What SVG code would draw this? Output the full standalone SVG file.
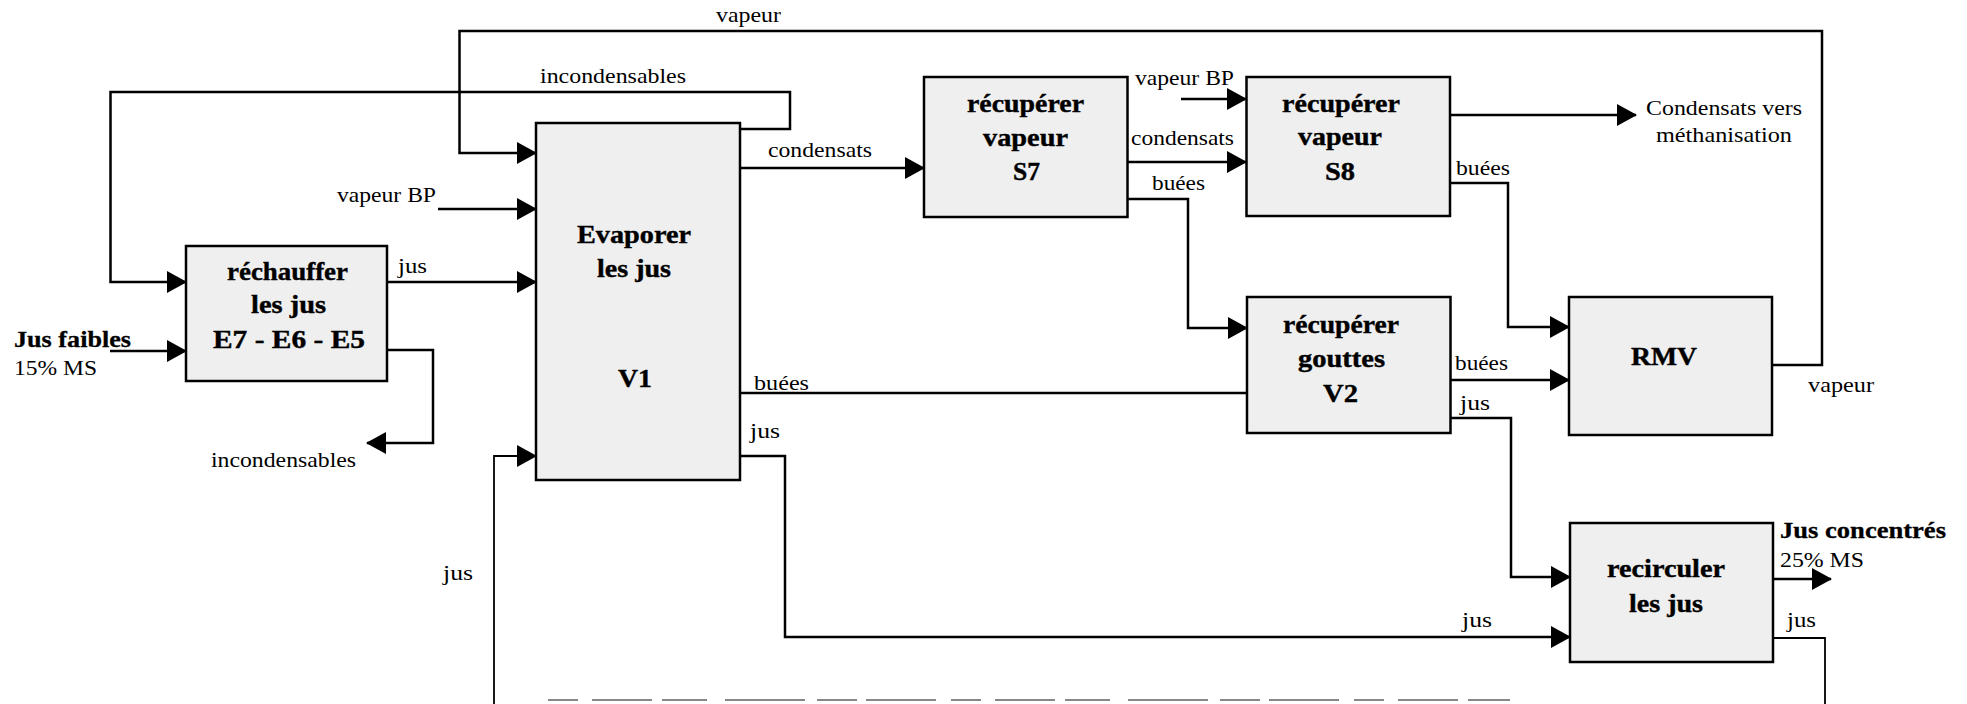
<svg xmlns="http://www.w3.org/2000/svg" width="1967" height="704" viewBox="0 0 1967 704">
<style>
.box{fill:#efefef;stroke:#000;stroke-width:2.5}
.bt{font-family:"Liberation Serif","Times New Roman",serif;font-weight:bold;font-size:25.5px;fill:#000;stroke:#000;stroke-width:0.4}
.lb{font-family:"Liberation Serif","Times New Roman",serif;font-size:22px;fill:#000}
.lbb{font-family:"Liberation Serif","Times New Roman",serif;font-weight:bold;font-size:24px;fill:#000;stroke:#000;stroke-width:0.3}
.c{fill:none;stroke:#000;stroke-width:2.5}
.ct{fill:none;stroke:#000;stroke-width:1.8}
.a{marker-end:url(#ah)}
</style>
<defs>
<marker id="ah" markerUnits="userSpaceOnUse" markerWidth="20" markerHeight="22" viewBox="0 0 20 22" refX="19" refY="11" orient="auto">
<path d="M0,0 L20,11 L0,22 z" fill="#000"/>
</marker>
</defs>
<rect width="1967" height="704" fill="#fff"/>

<g id="connectors">
<path class="c a" d="M1772,365 H1822 V31 H459.5 V153 H536"/>
<path class="c a" d="M740,129 H790 V92 H110.5 V282 H186"/>
<path class="c a" d="M438,209 H536"/>
<path class="c a" d="M387,282 H536"/>
<path class="c a" d="M110,351 H186"/>
<path class="c a" d="M388,350 H433 V443 H367"/>
<path class="c a" d="M740,168 H924"/>
<path class="c" d="M740,393 H1247"/>
<path class="c a" d="M740,456 H785 V637 H1570"/>
<path class="ct" d="M1773,638 H1825 V704"/>
<path class="ct a" d="M494,704 V456 H536"/>
<path d="M548,700 H1510" stroke="#888" stroke-width="2" stroke-dasharray="30,14,60,10,45,18,80,12,40,9,70,15" fill="none"/>
<path class="c a" d="M1127.5,162 H1246"/>
<path class="c a" d="M1181,99 H1246"/>
<path class="c a" d="M1127.5,199 H1188 V328 H1247"/>
<path class="c a" d="M1450,115 H1636"/>
<path class="c a" d="M1450,183 H1508 V327 H1569"/>
<path class="c a" d="M1450,380 H1569"/>
<path class="c a" d="M1450,418 H1511 V577 H1570"/>
<path class="c a" d="M1773,579 H1831"/>
</g>

<g id="labels">
<text class="lb" x="716" y="22" textLength="65" lengthAdjust="spacingAndGlyphs">vapeur</text>
<text class="lb" x="540" y="83" textLength="146" lengthAdjust="spacingAndGlyphs">incondensables</text>
<text class="lb" x="337" y="202" textLength="99" lengthAdjust="spacingAndGlyphs">vapeur BP</text>
<text class="lb" x="398" y="273" textLength="29" lengthAdjust="spacingAndGlyphs">jus</text>
<text class="lbb" x="14" y="347" textLength="117" lengthAdjust="spacingAndGlyphs">Jus faibles</text>
<text class="lb" x="14" y="375" textLength="83" lengthAdjust="spacingAndGlyphs">15% MS</text>
<text class="lb" x="211" y="467" textLength="145" lengthAdjust="spacingAndGlyphs">incondensables</text>
<text class="lb" x="443" y="580" textLength="30" lengthAdjust="spacingAndGlyphs">jus</text>
<text class="lb" x="768" y="157" textLength="104" lengthAdjust="spacingAndGlyphs">condensats</text>
<text class="lb" x="754" y="390" textLength="55" lengthAdjust="spacingAndGlyphs">buées</text>
<text class="lb" x="750" y="438" textLength="30" lengthAdjust="spacingAndGlyphs">jus</text>
<text class="lb" x="1135" y="85" textLength="99" lengthAdjust="spacingAndGlyphs">vapeur BP</text>
<text class="lb" x="1131" y="145" textLength="103" lengthAdjust="spacingAndGlyphs">condensats</text>
<text class="lb" x="1152" y="190" textLength="53" lengthAdjust="spacingAndGlyphs">buées</text>
<text class="lb" x="1646" y="115" textLength="156" lengthAdjust="spacingAndGlyphs">Condensats vers</text>
<text class="lb" x="1656" y="142" textLength="136" lengthAdjust="spacingAndGlyphs">méthanisation</text>
<text class="lb" x="1456" y="175" textLength="54" lengthAdjust="spacingAndGlyphs">buées</text>
<text class="lb" x="1455" y="370" textLength="53" lengthAdjust="spacingAndGlyphs">buées</text>
<text class="lb" x="1460" y="410" textLength="30" lengthAdjust="spacingAndGlyphs">jus</text>
<text class="lb" x="1808" y="392" textLength="66" lengthAdjust="spacingAndGlyphs">vapeur</text>
<text class="lbb" x="1780" y="538" textLength="166" lengthAdjust="spacingAndGlyphs">Jus concentrés</text>
<text class="lb" x="1780" y="567" textLength="84" lengthAdjust="spacingAndGlyphs">25% MS</text>
<text class="lb" x="1462" y="627" textLength="30" lengthAdjust="spacingAndGlyphs">jus</text>
<text class="lb" x="1787" y="627" textLength="29" lengthAdjust="spacingAndGlyphs">jus</text>
</g>

<g id="node-rechauffer">
<rect class="box" x="186" y="246" width="201" height="135"/>
<text class="bt" x="227" y="280" textLength="121" lengthAdjust="spacingAndGlyphs">réchauffer</text>
<text class="bt" x="251" y="313" textLength="75" lengthAdjust="spacingAndGlyphs">les jus</text>
<text class="bt" x="213" y="348" textLength="152" lengthAdjust="spacingAndGlyphs">E7 - E6 - E5</text>
</g>

<g id="node-evaporer">
<rect class="box" x="536" y="123" width="204" height="357"/>
<text class="bt" x="577" y="243" textLength="114" lengthAdjust="spacingAndGlyphs">Evaporer</text>
<text class="bt" x="597" y="277" textLength="74" lengthAdjust="spacingAndGlyphs">les jus</text>
<text class="bt" x="618" y="387" textLength="34" lengthAdjust="spacingAndGlyphs">V1</text>
</g>

<g id="node-s7">
<rect class="box" x="924" y="77" width="203.5" height="140"/>
<text class="bt" x="967" y="112" textLength="117" lengthAdjust="spacingAndGlyphs">récupérer</text>
<text class="bt" x="983" y="146" textLength="85" lengthAdjust="spacingAndGlyphs">vapeur</text>
<text class="bt" x="1013" y="180" textLength="27" lengthAdjust="spacingAndGlyphs">S7</text>
</g>

<g id="node-s8">
<rect class="box" x="1246.5" y="77" width="203.5" height="139"/>
<text class="bt" x="1282" y="112" textLength="118" lengthAdjust="spacingAndGlyphs">récupérer</text>
<text class="bt" x="1298" y="145" textLength="84" lengthAdjust="spacingAndGlyphs">vapeur</text>
<text class="bt" x="1325" y="180" textLength="30" lengthAdjust="spacingAndGlyphs">S8</text>
</g>

<g id="node-v2">
<rect class="box" x="1247" y="297" width="203.5" height="136"/>
<text class="bt" x="1283" y="333" textLength="116" lengthAdjust="spacingAndGlyphs">récupérer</text>
<text class="bt" x="1298" y="367" textLength="87" lengthAdjust="spacingAndGlyphs">gouttes</text>
<text class="bt" x="1323" y="402" textLength="35" lengthAdjust="spacingAndGlyphs">V2</text>
</g>

<g id="node-rmv">
<rect class="box" x="1569" y="297" width="203" height="138"/>
<text class="bt" x="1631" y="365" textLength="66" lengthAdjust="spacingAndGlyphs">RMV</text>
</g>

<g id="node-recirculer">
<rect class="box" x="1570" y="523" width="203" height="139"/>
<text class="bt" x="1607" y="577" textLength="118" lengthAdjust="spacingAndGlyphs">recirculer</text>
<text class="bt" x="1629" y="612" textLength="74" lengthAdjust="spacingAndGlyphs">les jus</text>
</g>
</svg>
